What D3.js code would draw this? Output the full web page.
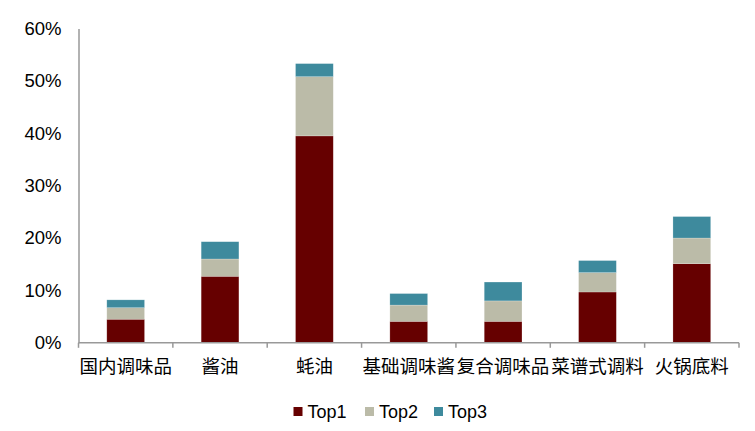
<!DOCTYPE html>
<html>
<head>
<meta charset="utf-8">
<script src="https://cdn.jsdelivr.net/npm/d3@7"></script>
<style>
  body { margin: 0; background: #fff; }
  svg { display: block; }
</style>
</head>
<body>
<div id="chart"></div>
<script>
// category names and stacked shares (percent)
var categories = ['国内调味品', '酱油', '蚝油', '基础调味酱', '复合调味品', '菜谱式调料', '火锅底料'];
var seriesNames = ['Top1', 'Top2', 'Top3'];
var top1 = [4.5, 12.7, 39.5, 4.1, 4.1, 9.7, 15.1];
var top2 = [2.2, 3.3, 11.3, 3.1, 3.9, 3.7, 4.9];
var top3 = [1.5, 3.3, 2.5, 2.2, 3.6, 2.3, 4.1];
var yTicks = [0, 10, 20, 30, 40, 50, 60];
var colors = ['#660000', '#bbbba8', '#3e8a9d'];

var width = 755, height = 431;
var margin = { left: 78.5, right: 16, top: 28.5, bottom: 88 };
var mainFont = '"Liberation Sans", Arial, "Noto Sans CJK SC", sans-serif';

var svg = d3.select('#chart').append('svg')
    .attr('width', width)
    .attr('height', height);

var x = d3.scaleBand()
    .domain(categories)
    .range([margin.left, width - margin.right])
    .paddingInner(0.6)
    .paddingOuter(0.3);

var y = d3.scaleLinear()
    .domain([0, 60])
    .range([height - margin.bottom - 0.2, margin.top]);

// build rows for the stack
var rows = categories.map(function(c, i) {
    return { cat: c, Top1: top1[i], Top2: top2[i], Top3: top3[i] };
});
var stacked = d3.stack().keys(seriesNames)(rows);

// bars
svg.append('g').selectAll('g')
    .data(stacked)
    .join('g')
    .attr('fill', function(d, i) { return colors[i]; })
    .selectAll('rect')
    .data(function(d) { return d; })
    .join('rect')
    .attr('x', function(d) { return x(d.data.cat); })
    .attr('width', x.bandwidth())
    .attr('y', function(d) { return y(d[1]); })
    .attr('height', function(d) { return y(d[0]) - y(d[1]); })
    .attr('stroke', '#ffffff')
    .attr('stroke-opacity', 0.35)
    .attr('stroke-width', 0.6);

// y axis
var yAxis = svg.append('g')
    .attr('transform', 'translate(' + margin.left + ',0)')
    .call(d3.axisLeft(y).tickValues(yTicks).tickSize(0).tickPadding(17)
        .tickFormat(function(d) { return d + '%'; }));
yAxis.select('.domain').attr('stroke', '#999').attr('stroke-width', 1.5);
yAxis.selectAll('text')
    .style('font-family', mainFont)
    .style('font-size', '18.5px')
    .attr('fill', '#000');

// x axis with ticks on band boundaries
var baseY = y(0);
var xAxis = svg.append('g');
xAxis.append('line')
    .attr('x1', margin.left)
    .attr('x2', width - margin.right)
    .attr('y1', baseY)
    .attr('y2', baseY)
    .attr('stroke', '#999')
    .attr('stroke-width', 1.5);

var step = x.step();
var edges = categories.map(function(c) { return x(c) - x.paddingInner() * step / 2; });
edges.push(width - margin.right);
xAxis.selectAll('line.tick')
    .data(edges)
    .join('line')
    .attr('class', 'tick')
    .attr('x1', function(d) { return d; })
    .attr('x2', function(d) { return d; })
    .attr('y1', baseY)
    .attr('y2', baseY + 5)
    .attr('stroke', '#999')
    .attr('stroke-width', 1.5);

xAxis.selectAll('text')
    .data(categories)
    .join('text')
    .attr('x', function(d) { return x(d) + x.bandwidth() / 2; })
    .attr('y', baseY + 30)
    .attr('text-anchor', 'middle')
    .style('font-family', mainFont)
    .style('font-size', '18.5px')
    .attr('fill', '#000')
    .text(function(d) { return d; });

// legend
var legendX = [293.5, 365, 434];
var legend = svg.append('g').selectAll('g')
    .data(seriesNames)
    .join('g')
    .attr('transform', function(d, i) { return 'translate(' + legendX[i] + ',' + 411.5 + ')'; });

legend.append('rect')
    .attr('x', 0)
    .attr('y', -4.5)
    .attr('width', 9)
    .attr('height', 9)
    .attr('fill', function(d, i) { return colors[i]; });

legend.append('text')
    .attr('x', 14)
    .attr('y', 6.5)
    .style('font-family', mainFont)
    .style('font-size', '18px')
    .attr('fill', '#000')
    .text(function(d) { return d; });
</script>
</body>
</html>
